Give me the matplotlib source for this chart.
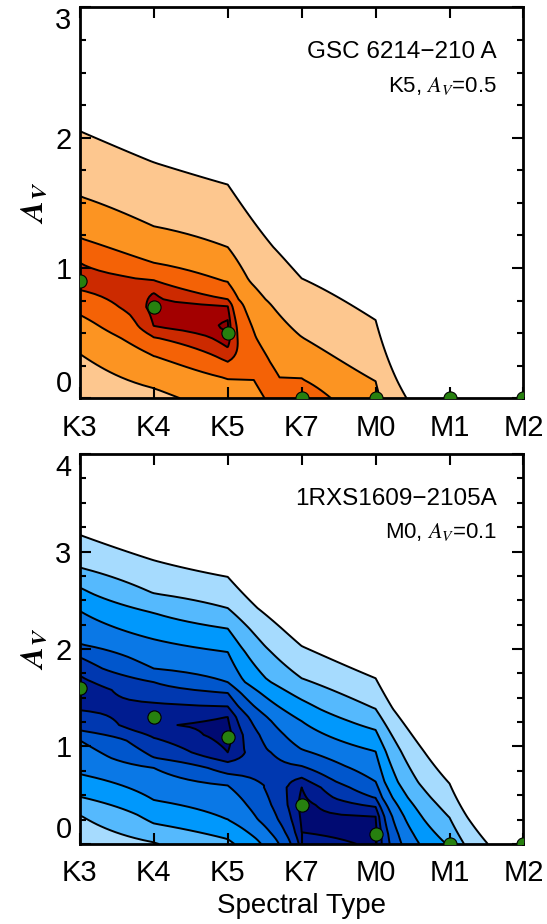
import numpy as np
import matplotlib
matplotlib.use('Agg')
import matplotlib.pyplot as plt
from matplotlib.ticker import MultipleLocator

plt.rcParams['font.family'] = ['Liberation Sans', 'DejaVu Sans']
plt.rcParams['mathtext.fontset'] = 'stix'

spt_labels = ['K3', 'K4', 'K5', 'K7', 'M0', 'M1', 'M2']
spt_x = np.arange(len(spt_labels))

# best-fit Av for every spectral type (green dots)
best_av_top = [0.9, 0.7, 0.5, 0.0, 0.0, 0.0, 0.0]
best_av_bot = [1.6, 1.3, 1.1, 0.4, 0.1, 0.0, 0.0]

# for each spectral type the Av where each
# contour level crosses that column (level index 1 = innermost contour)
top_av = [
    [0.00, 0.34, 0.64, 0.83, 0.935, 1.04, 1.23, 1.55, 2.05, 3.00],
    [0.00, 0.077, 0.325, 0.47, 0.55, 0.70, 0.81, 0.905, 1.04, 1.32, 1.81, 3.00],
    [0.00, 0.15, 0.28, 0.39, 0.50, 0.55, 0.60, 0.71, 0.76, 0.89, 1.16, 1.64, 3.00],
    [0.00, 0.15, 0.47, 0.92, 3.00],
    [0.00, 0.13, 0.60, 3.00],
    [0.00, 3.00],
    [0.00, 3.00],
]
top_lev = [
    [5.6, 5, 4, 3, 2.5, 3, 4, 5, 6, 7.5],
    [5.2, 5, 4, 3, 2, 1.4, 2, 3, 4, 5, 6, 8],
    [4.5, 4, 3, 2, 1, 0.7, 1, 2, 3, 4, 5, 6, 8.5],
    [3.04, 4, 5, 6, 9],
    [4.69, 5, 6, 9.5],
    [6.74, 12],
    [8, 13],
]

bot_av = [
    [0.00, 0.296, 0.484, 0.716, 1.063, 1.165, 1.37, 1.58, 1.727, 1.915, 2.05, 2.39, 2.63, 2.835, 3.17, 4.00],
    [0.00, 0.017, 0.21, 0.45, 0.78, 0.886, 1.09, 1.22, 1.45, 1.66, 1.80, 2.10, 2.37, 2.57, 2.91, 4.00],
    [0.00, 0.05, 0.25, 0.60, 0.72, 0.84, 0.94, 1.12, 1.305, 1.41, 1.55, 1.66, 1.97, 2.21, 2.42, 2.74, 4.00],
    [0.00, 0.12, 0.40, 0.58, 0.68, 0.80, 0.97, 1.26, 1.48, 1.70, 2.03, 4.00],
    [0.00, 0.10, 0.28, 0.38, 0.47, 0.64, 0.95, 1.17, 1.385, 1.70, 4.00],
    [0.00, 0.27, 0.62, 4.00],
    [0.00, 4.00],
]
bot_lev = [
    [7.7, 7, 6, 5, 4, 3, 2, 1.4, 2, 3, 4, 5, 6, 7, 8, 10],
    [7.05, 7, 6, 5, 4, 3, 2, 1.1, 2, 3, 4, 5, 6, 7, 8, 11],
    [6.2, 6, 5, 4, 3, 2, 1, 0.5, 1, 2, 3, 4, 5, 6, 7, 8, 12],
    [1.5, 1, 0.6, 1, 2, 3, 4, 5, 6, 7, 8, 13],
    [0.8, 0.6, 1, 2, 3, 4, 5, 6, 7, 8, 14],
    [6.1, 7, 8, 16],
    [9, 20],
]

top_colors = ['#8B0000', '#A30000', '#CC2A00', '#F46206', '#FC9422', '#FDC78F']
bot_colors = ['#000A72', '#001C90', '#0038B0', '#0056CC', '#0A78E6',
              '#0098FC', '#55B9FD', '#A6DBFE']


def build_grid(av_knots, lev_knots, av_max, base):
    av = np.linspace(0, av_max, int(round(av_max / 0.02)) + 1)
    idx = np.column_stack([np.interp(av, a, l) for a, l in zip(av_knots, lev_knots)])
    return av, base ** idx


def panel(ax, av_knots, lev_knots, av_max, base, colors, best_av, name, note):
    av, chi = build_grid(av_knots, lev_knots, av_max, base)
    n = len(colors)
    lev = base ** np.arange(1, n + 1)
    ax.contourf(spt_x, av, chi, levels=np.concatenate([[0], lev]), colors=colors)
    ax.contour(spt_x, av, chi, levels=lev, colors='k', linewidths=1.4)
    ax.plot(spt_x, best_av, 'o', color='#27800F', markeredgecolor='k',
            markeredgewidth=0.8, markersize=9.5, zorder=5)
    ax.set_xlim(0, 6)
    ax.set_ylim(0, av_max)
    ax.set_xticks(spt_x)
    ax.set_xticklabels(spt_labels)
    ax.set_yticks(np.arange(0, av_max + 1))
    ax.yaxis.set_minor_locator(MultipleLocator(0.25))
    ax.tick_params(which='both', direction='in', top=True, right=True,
                   labelsize=21, width=1.5)
    ax.tick_params(axis='x', pad=11)
    ax.tick_params(axis='y', pad=6)
    ax.tick_params(which='major', length=8)
    ax.tick_params(which='minor', length=4.5)
    ylabs = ax.get_yticklabels()
    ylabs[0].set_va('bottom')
    ylabs[-1].set_va('top')
    for s in ax.spines.values():
        s.set_linewidth(2)
    ax.set_ylabel(r'$\boldsymbol{A}_{\boldsymbol{V}}$', fontsize=23, labelpad=4)
    ax.text(0.94, 0.885, name, transform=ax.transAxes, ha='right', va='center',
            fontsize=17.5)
    ax.text(0.94, 0.80, note, transform=ax.transAxes, ha='right', va='center',
            fontsize=16)


fig = plt.figure(figsize=(5.47, 9.24), dpi=100)
ax1 = fig.add_axes([0.146, 0.569, 0.811, 0.423])
ax2 = fig.add_axes([0.146, 0.0866, 0.811, 0.422])

panel(ax1, top_av, top_lev, 3, 2.5, top_colors, best_av_top,
      'GSC 6214\u2212210 A', r'K5, $A_V$=0.5')
panel(ax2, bot_av, bot_lev, 4, 1.5, bot_colors, best_av_bot,
      '1RXS1609\u22122105A', r'M0, $A_V$=0.1')
ax2.set_xlabel('Spectral Type', fontsize=20, labelpad=4)

fig.savefig('out.png', dpi=100)
